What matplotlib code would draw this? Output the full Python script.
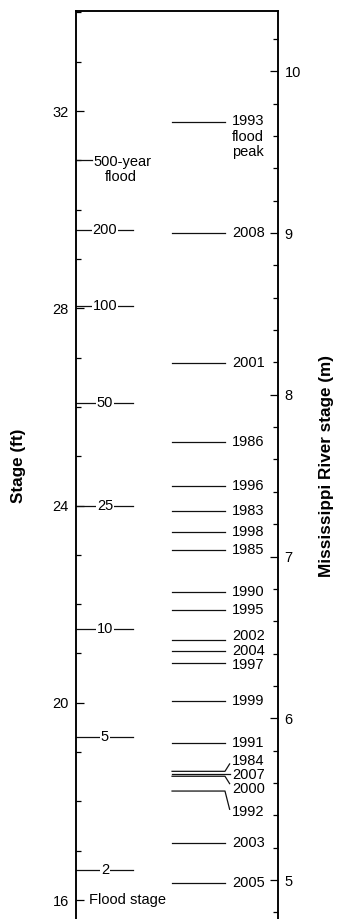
import matplotlib
matplotlib.use("Agg")
import matplotlib.pyplot as plt
from matplotlib.ticker import MultipleLocator, FixedLocator

plt.rcParams['font.family'] = ['Liberation Sans', 'DejaVu Sans']

FT_PER_M = 3.2808

# Recurrence-interval flood stages (ft)
ri_labels = ["200", "100", "50", "25", "10", "5", "2"]
ri_stages = [29.59, 28.05, 26.09, 24.0, 21.49, 19.30, 16.60]
flood500_stage = 31.0
flood_stage = 16.0

# Annual peak stages (ft)
years = ["2008", "2001", "1986", "1996", "1983", "1998", "1985", "1990",
         "1995", "2002", "2004", "1997", "1999", "1991", "2003", "2005"]
year_stages = [29.52, 26.89, 25.29, 24.40, 23.89, 23.47, 23.09, 22.24,
               21.89, 21.28, 21.05, 20.80, 20.04, 19.18, 17.16, 16.35]
peak1993 = 31.77
# clustered years with leader lines
cluster_years = ["1984", "2007", "2000", "1992"]
cluster_stages = [18.61, 18.55, 18.51, 18.21]

fig = plt.figure(figsize=(3.37, 9.19), dpi=100)
ax = fig.add_axes([75.7/337, 0.0, (277.7-75.7)/337, 1 - 11/919])
ymin, ymax = 15.615, 34.03
ax.set_ylim(ymin, ymax)
ax.set_xlim(0, 1)
ax.set_xticks([])

ax2 = ax.twinx()
ax2.set_ylim(ymin / FT_PER_M, ymax / FT_PER_M)

for a in (ax, ax2):
    a.spines['bottom'].set_visible(False)
    for s in ['left', 'right', 'top']:
        a.spines[s].set_linewidth(1.1)

fs = 10.5
ax.yaxis.set_major_locator(FixedLocator([16, 20, 24, 28, 32]))
ax.yaxis.set_minor_locator(MultipleLocator(1))
ax.yaxis.set_ticks_position('left')
ax.tick_params(axis='y', which='major', direction='in', length=5.5, width=0.9,
               pad=5, labelsize=fs)
ax.tick_params(axis='y', which='minor', direction='in', length=3.8, width=0.9)

ax2.yaxis.set_major_locator(FixedLocator([5, 6, 7, 8, 9, 10]))
ax2.yaxis.set_minor_locator(MultipleLocator(0.2))
ax2.yaxis.set_ticks_position('right')
ax2.tick_params(axis='y', which='major', direction='in', length=5.5, width=0.9,
                pad=5, labelsize=fs)
ax2.tick_params(axis='y', which='minor', direction='in', length=3.8, width=0.9)

lw = 0.9
col = '#111111'

# recurrence interval lines
for lab, st in zip(ri_labels, ri_stages):
    ax.plot([0, 0.284], [st, st], color=col, lw=lw)
    ax.text(0.145, st, lab, ha='center', va='center', fontsize=fs,
            bbox=dict(facecolor='white', edgecolor='none', pad=0.6))
ax.plot([0, 0.083], [flood500_stage]*2, color=col, lw=lw)
ax.text(0.087, flood500_stage - 0.03, "500-year", ha='left', va='center', fontsize=fs)
ax.text(0.225, flood500_stage - 0.33, "flood", ha='center', va='center', fontsize=fs)
ax.text(0.067, flood_stage, "Flood stage", ha='left', va='center', fontsize=fs)

# annual peak lines
x0, x1, xt = 0.477, 0.739, 0.774
for lab, st in zip(years, year_stages):
    ax.plot([x0, x1], [st, st], color=col, lw=lw)
    dy = 0.07 if lab == "2002" else (-0.03 if lab == "1997" else 0.0)
    ax.text(xt, st + dy, lab, ha='left', va='center', fontsize=fs)

ax.plot([x0, x1], [peak1993]*2, color=col, lw=lw)
ax.text(xt, peak1993 + 0.03, "1993", ha='left', va='center', fontsize=fs)
ax.text(xt, peak1993 - 0.29, "flood", ha='left', va='center', fontsize=fs)
ax.text(xt, peak1993 - 0.60, "peak", ha='left', va='center', fontsize=fs)

# clustered labels with leader lines
label_pos = [18.82, 18.54, 18.26, 17.79]
leader_end = [18.76, 18.55, 18.36, 17.84]
xl = 0.762
for lab, st, lp, le in zip(cluster_years, cluster_stages, label_pos, leader_end):
    ax.plot([x0, x1, xl], [st, st, le], color=col, lw=lw)
    ax.text(xt, lp, lab, ha='left', va='center', fontsize=fs)

fig.text(19/337, 1 - 466/919, "Stage (ft)", rotation=90, ha='center', va='center',
         fontsize=12.3, fontweight='bold')
fig.text(326/337, 1 - 466/919, "Mississippi River stage (m)", rotation=90,
         ha='center', va='center', fontsize=12.3, fontweight='bold')

fig.savefig("out.png", dpi=100)
